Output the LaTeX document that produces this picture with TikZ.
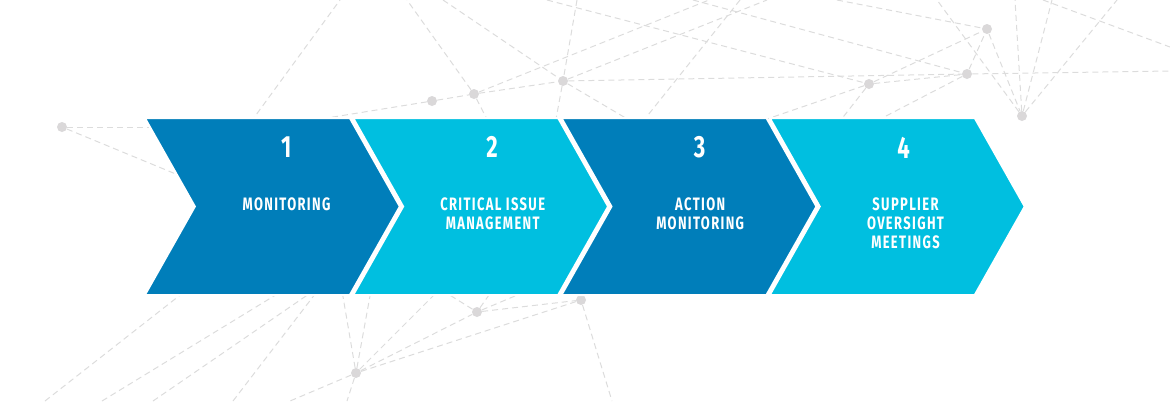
\documentclass[tikz,border=0pt]{standalone}
\usepackage{fontspec}
\newfontfamily\chevfont{Fira Sans}[FakeStretch=0.72,LetterSpace=7.5]
\definecolor{stepblue}{RGB}{0,126,186}
\definecolor{stepcyan}{RGB}{0,191,224}
\definecolor{netgray}{RGB}{220,220,220}
\definecolor{dotgray}{RGB}{218,216,217}
\begin{document}
\begin{tikzpicture}[x=0.75pt,y=0.75pt,yscale=-1,xscale=1,
  net/.style={draw=netgray,line width=0.75pt,dash pattern=on 4.5pt off 3pt},
  dot/.style={circle,fill=dotgray,inner sep=0pt,minimum size=7.5pt},
  chevdark/.style={fill=stepblue,draw=white,line width=1.5pt,line join=miter},
  chevlight/.style={fill=stepcyan,draw=white,line width=1.5pt,line join=miter},
  numtext/.style={anchor=north,inner sep=0pt,text=white,font=\chevfont\bfseries\fontsize{23}{24}\selectfont},
  steptext/.style={anchor=north,inner sep=0pt,align=center,text=white,font=\chevfont\bfseries\fontsize{13.5}{14.25}\selectfont}]
%set diagram to the size of the reference
\clip (0,0) rectangle (1170,401);

%Shape: Dots
\node[dot] (p1) at (62,127) {};
\node[dot] (p2) at (432,101) {};
\node[dot] (p3) at (474,94) {};
\node[dot] (p4) at (563,81) {};
\node[dot] (p5) at (869,84) {};
\node[dot] (p6) at (967,74) {};
\node[dot] (p7) at (987,29) {};
\node[dot] (p8) at (1022,116) {};
\node[dot] (p9) at (581,300) {};
\node[dot] (p10) at (477,312) {};
\node[dot] (p11) at (356,373) {};

%free ends on the top and right border
\coordinate (ta) at (340,0);
\coordinate (tb) at (407,0);
\coordinate (tc) at (443,0);
\coordinate (td) at (547,0);
\coordinate (te) at (577,0);
\coordinate (tf) at (709,0);
\coordinate (tg) at (767,0);
\coordinate (th) at (693,0);
\coordinate (ti) at (740,0);
\coordinate (tj) at (837,0);
\coordinate (tk) at (937,0);
\coordinate (tl) at (1015,0);
\coordinate (tm) at (1052,0);
\coordinate (tn) at (1117,0);
\coordinate (to) at (1043,0);
\coordinate (re) at (1170,47);
\coordinate (rf) at (1170,71);
%free ends under the chevrons
\coordinate (ha) at (230,127);
\coordinate (hb) at (200,184);
\coordinate (hc) at (245,130);
\coordinate (hd) at (290,124);
\coordinate (he) at (490,125);
\coordinate (hf) at (554,130);
\coordinate (hg) at (646,130);
\coordinate (hh) at (640,125);
\coordinate (hi) at (735,130);
\coordinate (hj) at (833,130);
\coordinate (hk) at (859,130);
\coordinate (hl) at (193,285);
\coordinate (hm) at (292,285);
\coordinate (hn) at (322,285);
\coordinate (hp) at (341,285);
\coordinate (hq) at (372,285);
\coordinate (hr) at (440,289);
\coordinate (hs) at (496,285);
\coordinate (ht) at (541,285);
%free ends on the bottom border
\coordinate (ba) at (45,401);
\coordinate (bb) at (102,401);
\coordinate (bc) at (153,401);
\coordinate (bd) at (233,401);
\coordinate (be) at (290,401);
\coordinate (bf) at (347,401);
\coordinate (bg) at (612,401);

%Straight Lines (top network)
\draw[net] (p1) -- (ha);
\draw[net] (p1) -- (hb);
\draw[net] (hc) -- (ta);
\draw[net] (p2) -- (hd);
\draw[net] (p2) -- (p3);
\draw[net] (p3) -- (tb);
\draw[net] (p3) -- (he);
\draw[net] (p3) -- (p4);
\draw[net] (p3) -- (tf);
\draw[net] (tc) -- (p4);
\draw[net] (te) -- (p4) -- (hf);
\draw[net] (p4) -- (tg);
\draw[net] (p4) -- (hg);
\draw[net] (p4) -- (p6) -- (rf);
\draw[net] (ti) -- (hh);
\draw[net] (td) -- (p5);
\draw[net] (th) -- (p6);
\draw[net] (tj) -- (p7);
\draw[net] (p5) -- (p7);
\draw[net] (p5) -- (p6);
\draw[net] (p5) -- (hi);
\draw[net] (p5) -- (hj);
\draw[net] (p6) -- (hk);
\draw[net] (p6) -- (p7);
\draw[net] (p7) -- (p8);
\draw[net] (p8) -- (tk);
\draw[net] (p8) -- (tl);
\draw[net] (p8) -- (tm);
\draw[net] (p8) -- (tn);
\draw[net] (to) -- (re);

%Straight Lines (bottom network)
\draw[net] (ba) -- (hl);
\draw[net] (bb) -- (hm);
\draw[net] (bc) -- (hn);
\draw[net] (bd) -- (hn);
\draw[net] (p11) -- (hp);
\draw[net] (p11) -- (hq);
\draw[net] (p11) -- (hr);
\draw[net] (p11) -- (be);
\draw[net] (p11) -- (bf);
\draw[net] (p11) -- (p10);
\draw[net] (p11) -- (p9);
\draw[net] (p10) -- (hr);
\draw[net] (p10) -- (hs);
\draw[net] (p10) -- (ht);
\draw[net] (p10) -- (p9);
\draw[net] (p9) -- (bg);

%Shape: Chevron 1
\draw[chevdark] (144.85,118) -- (349.85,118) -- (399.85,206.5) -- (349.85,295) -- (144.85,295) -- (194.85,206.5) -- cycle ;
%Shape: Chevron 2
\draw[chevlight] (353.15,118) -- (558.15,118) -- (608.15,206.5) -- (558.15,295) -- (353.15,295) -- (403.15,206.5) -- cycle ;
%Shape: Chevron 3
\draw[chevdark] (561.45,118) -- (766.45,118) -- (816.45,206.5) -- (766.45,295) -- (561.45,295) -- (611.45,206.5) -- cycle ;
%Shape: Chevron 4
\draw[chevlight] (769.75,118) -- (974.75,118) -- (1024.75,206.5) -- (974.75,295) -- (769.75,295) -- (819.75,206.5) -- cycle ;

% Text Node
\node[numtext] (n1) at (286.3,136.5) {1};
\node[steptext] (s1) at (286.5,197) {MONITORING};
% Text Node
\node[numtext] (n2) at (492,136.5) {2};
\node[steptext] (s2) at (492.7,197) {CRITICAL ISSUE\\MANAGEMENT};
% Text Node
\node[numtext] (n3) at (699.5,136.5) {3};
\node[steptext] (s3) at (700.2,197) {ACTION\\MONITORING};
% Text Node
\node[numtext] (n4) at (903.5,136.5) {4};
\node[steptext] (s4) at (905.5,197) {SUPPLIER\\OVERSIGHT\\MEETINGS};

\end{tikzpicture}
\end{document}
